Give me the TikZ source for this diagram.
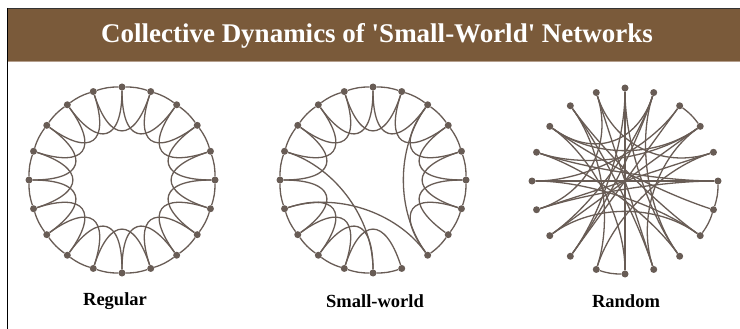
\documentclass[tikz,border=0pt]{standalone}
\usepackage{fontspec}
\setmainfont{Liberation Serif}
\usetikzlibrary{calc}
\definecolor{barbrown}{RGB}{122,90,58}
\definecolor{barline}{RGB}{180,158,140}
\definecolor{netgray}{RGB}{104,92,85}
\tikzset{
  dot/.style={circle, fill=netgray, inner sep=0pt, minimum size=7pt},
  link/.style={draw=netgray, line width=1.3pt},
  heading/.style={font=\bfseries\fontsize{27}{30}\selectfont, text=white},
  caption/.style={font=\bfseries\fontsize{18.5}{21}\selectfont}}

\begin{document}
\begin{tikzpicture}[x=1pt, y=-1pt]
  \useasboundingbox (0,0) rectangle (740,329);
  \fill[white] (0,0) rectangle (740,329);
  % title bar and frame
  \fill[barbrown] (8,9) rectangle (740,61);
  \draw[barline, line width=1pt] (8,61.5) -- (740,61.5);
  \draw[black!80, line width=1.5pt] (7,8.5) -- (740,8.5);
  \draw[black, line width=1.5pt] (7.5,8) -- (7.5,329);
  \node[heading] (head) at (377,36) {Collective Dynamics of \textquotesingle Small-World\textquotesingle{} Networks};

  \coordinate (regc) at (122,180);
  \coordinate (swc) at (373,180);
  \coordinate (rndc) at (625,181);
  \foreach \k in {0,...,19} {
    \node[dot] (reg\k) at ($(regc)+({18*\k-90}:93)$) {};
    \node[dot] (sw\k) at ($(swc)+({18*\k-90}:93)$) {};
    \node[dot] (rnd\k) at ($(rndc)+({18*\k-90}:93)$) {};
  }

  % regular ring
  \foreach \k in {0,...,19} {
    \pgfmathtruncatemacro\j{mod(\k+1,20)}
    \pgfmathtruncatemacro\m{mod(\k+2,20)}
    \draw[link] (reg\k) to[bend left=9] (reg\j);
    \draw[link] (reg\k) .. controls ($(regc)!0.42!(reg\k)$) and ($(regc)!0.42!(reg\m)$) .. (reg\m);
  }

  % small-world: a few rewired links
  \foreach \k in {0,1,2,3,4,5,6,7,9,10,11,12,13,14,15,16,17,18,19} {
    \pgfmathtruncatemacro\j{mod(\k+1,20)}
    \draw[link] (sw\k) to[bend left=9] (sw\j);
  }
  \foreach \k in {0,1,2,3,4,5,6,9,10,11,12,13,15,16,17,18,19} {
    \pgfmathtruncatemacro\m{mod(\k+2,20)}
    \draw[link] (sw\k) .. controls ($(swc)!0.42!(sw\k)$) and ($(swc)!0.42!(sw\m)$) .. (sw\m);
  }
  \foreach \a/\b in {16/10, 14/8, 8/2}
    \draw[link] (sw\a) .. controls ($(swc)!0.42!(sw\a)$) and ($(swc)!0.42!(sw\b)$) .. (sw\b);

  % random
  \foreach \a/\b in {2/3, 10/11, 5/6, 6/7}
    \draw[link] (rnd\a) to[bend left=9] (rnd\b);
  \foreach \a/\b in {0/12, 0/8, 0/10, 1/13, 1/12, 1/17, 1/8, 19/4, 19/9, 18/7, 18/9, 18/11,
                     17/3, 17/6, 16/5, 16/3, 15/5, 15/2, 14/4, 14/5, 13/3, 12/2, 9/3, 7/15,
                     4/11, 14/19, 10/17, 13/7, 16/8}
    \draw[link] (rnd\a) .. controls ($(rndc)!0.42!(rnd\a)$) and ($(rndc)!0.42!(rnd\b)$) .. (rnd\b);

  \node[caption] (regl) at (115,301) {Regular};
  \node[caption] (swl) at (375,301) {Small-world};
  \node[caption] (rndl) at (626,301) {Random};
\end{tikzpicture}
\end{document}
